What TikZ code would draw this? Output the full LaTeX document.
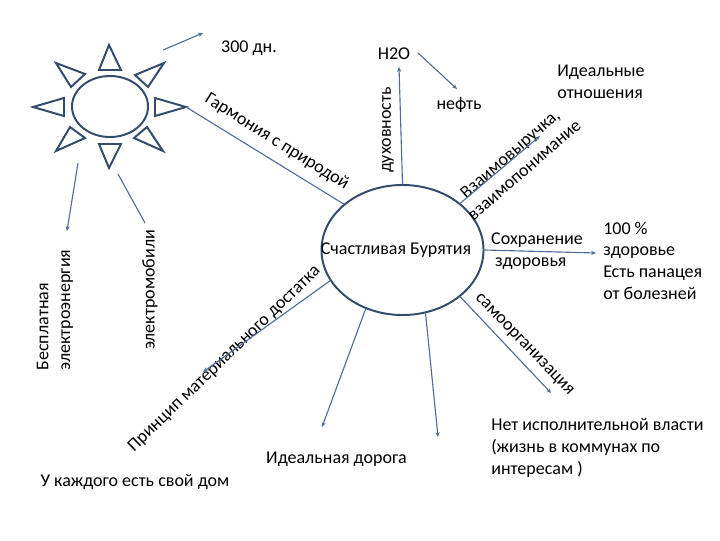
\documentclass[tikz,border=0pt]{standalone}
\usepackage{fontspec}
\setmainfont{Carlito}
\usepackage{tikz}
\usetikzlibrary{arrows.meta,shapes.geometric}

\definecolor{linkblue}{RGB}{79,109,150}
\definecolor{sunblue}{RGB}{52,76,108}
\tikzset{
  lbl/.style={font=\fontsize{12.8}{15.4}\selectfont,text=black,inner sep=0pt,align=center},
  lnk/.style={draw=linkblue,line width=0.8pt},
  arw/.style={lnk,-{Stealth[length=3.5pt,width=3pt]}},
  ray/.style={draw=sunblue,line width=1.4pt,line join=miter}
}

\begin{document}
\begin{tikzpicture}[x=0.025cm,y=-0.025cm]
      \useasboundingbox (0,0) rectangle (720,540);

      % sun
      \node[ray,ellipse,minimum width=1.9cm,minimum height=1.525cm,inner sep=0pt] (sun) at (110,106.5) {};
      \draw[ray] (109,45) -- (99,70) -- (121,70) -- cycle;
      \draw[ray] (164,63) -- (135,75) -- (148,87) -- cycle;
      \draw[ray] (186,107) -- (155,98) -- (155,116) -- cycle;
      \draw[ray] (163,151) -- (134,138) -- (147,127) -- cycle;
      \draw[ray] (109,168) -- (99,144) -- (121,144) -- cycle;
      \draw[ray] (56,151) -- (85,138) -- (70,127) -- cycle;
      \draw[ray] (33,107) -- (64,98) -- (64,116) -- cycle;
      \draw[ray] (56,63) -- (85,74) -- (71,87) -- cycle;

      % centre
      \node[ray,ellipse,minimum width=4.05cm,minimum height=3.25cm,inner sep=0pt] (bur) at (402.5,250) {};
      \node[lbl] (burtxt) at (396,250) {Счастливая Бурятия};

      % labels
      \node[lbl] (days) at (249,48) {300 дн.};
      \node[lbl] (water) at (394,54) {Н2О};
      \node[lbl] (oil) at (459,105) {нефть};
      \node[lbl,align=left] (ideal) at (601,82) {Идеальные\\отношения};
      \node[lbl,rotate=-32] (harm) at (277,142) {Гармония с природой};
      \node[lbl,rotate=90] (spirit) at (388,130) {духовность};
      \node[lbl,rotate=41] (mutual) at (517,162) {Взаимовыручка,\\взаимопонимание};
      \node[lbl,align=left] (keep) at (537,251) {Сохранение\\\hspace{2.8pt}здоровья};
      \node[lbl,align=left,anchor=west] (health) at (603,260.5) {100 \%\\здоровье\\Есть панацея\\от болезней};
      \node[lbl,rotate=-46] (self) at (524,345) {самоорганизация};
      \node[lbl,align=left,anchor=west] (gov) at (491,448) {Нет исполнительной власти\\(жизнь в коммунах по\\интересам )};
      \node[lbl] (road) at (336.5,459) {Идеальная дорога};
      \node[lbl] (home) at (135,482) {У каждого есть свой дом};
      \node[lbl,rotate=44] (prin) at (224.5,359) {Принцип материального достатка};
      \node[lbl,rotate=90] (cars) at (150,290) {электромобили};
      \node[lbl,rotate=90,align=left] (free) at (55,310) {Бесплатная\\электроэнергия};

      \coordinate (tip) at (186,107);
      \coordinate (a0) at (163,50);
      \coordinate (a1) at (203,33);
      \coordinate (b0) at (78,163);
      \coordinate (b1) at (67,231);
      \coordinate (c0) at (118,174);
      \coordinate (c1) at (145,223);
      \coordinate (e1) at (399,67);
      \coordinate (f0) at (418,53);
      \coordinate (f1) at (457,89);
      \coordinate (g1) at (540,136);
      \coordinate (h1) at (596,253);
      \coordinate (i1) at (551,393);
      \coordinate (j1) at (438,437);
      \coordinate (k1) at (322,427);
      \coordinate (l1) at (203,372);

      \draw[arw] (a0) -- (a1);
      \draw[arw] (b0) -- (b1);
      \draw[lnk] (c0) -- (c1);
      \draw[lnk] (tip) -- (bur.142);
      \draw[arw] (bur.90) -- (e1);
      \draw[arw] (f0) -- (f1);
      \draw[arw] (bur.39) -- (g1);
      \draw[arw] (bur.0) -- (h1);
      \draw[arw] (bur.-39) -- (i1);
      \draw[arw] (bur.-70) -- (j1);
      \draw[arw] (bur.-122) -- (k1);
      \draw[arw] (bur.203) -- (l1);
\end{tikzpicture}
\end{document}
